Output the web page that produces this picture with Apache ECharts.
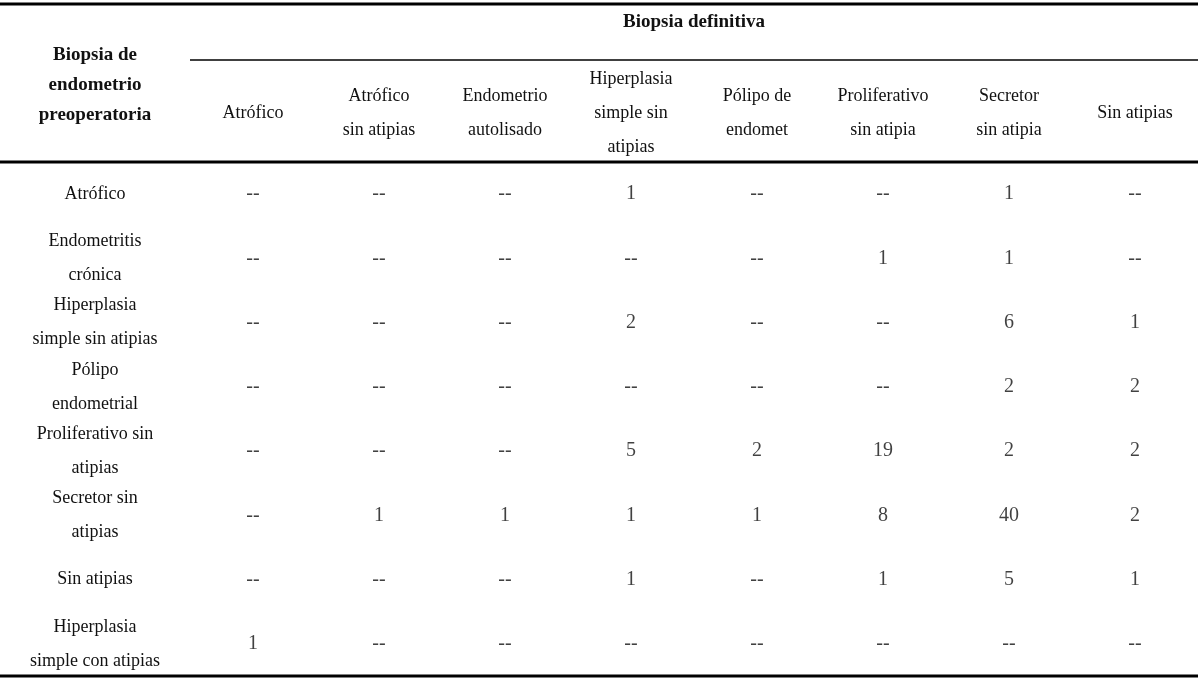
<!DOCTYPE html>
<html>
<head>
<meta charset="utf-8">
<script src="https://cdn.jsdelivr.net/npm/echarts@6/dist/echarts.min.js"></script>
<style>html,body{margin:0;background:#fff}#main{width:1200px;height:692px}</style>
</head>
<body>
<div id="main"></div>
<script>
var columns = ['Atrófico', 'Atrófico\nsin atipias', 'Endometrio\nautolisado', 'Hiperplasia\nsimple sin\natipias', 'Pólipo de\nendomet', 'Proliferativo\nsin atipia', 'Secretor\nsin atipia', 'Sin atipias'];
var rows = ['Atrófico', 'Endometritis\ncrónica', 'Hiperplasia\nsimple sin atipias', 'Pólipo\nendometrial', 'Proliferativo sin\natipias', 'Secretor sin\natipias', 'Sin atipias', 'Hiperplasia\nsimple con atipias'];
// null = "--"
var values = [
    [null, null, null, 1, null, null, 1, null],
    [null, null, null, null, null, 1, 1, null],
    [null, null, null, 2, null, null, 6, 1],
    [null, null, null, null, null, null, 2, 2],
    [null, null, null, 5, 2, 19, 2, 2],
    [null, 1, 1, 1, 1, 8, 40, 2],
    [null, null, null, 1, null, 1, 5, 1],
    [1, null, null, null, null, null, null, null]
];

var font = 'Liberation Serif';
var cells = [];
values.forEach(function (r, i) {
    r.forEach(function (v, j) {
        cells.push([j, i, v]);
    });
});

var myChart = echarts.init(document.getElementById('main'));
var option = {
    animation: false,
    grid: {left: 190, right: 2, top: 162, bottom: 16},
    xAxis: {
        type: 'category', data: columns, position: 'top',
        axisLine: {show: false}, axisTick: {show: false}, splitLine: {show: false},
        axisLabel: {margin: 49, verticalAlign: 'middle', fontFamily: font, fontSize: 18, lineHeight: 34, color: '#111', interval: 0}
    },
    yAxis: {
        type: 'category', data: rows, inverse: true,
        axisLine: {show: false}, axisTick: {show: false}, splitLine: {show: false},
        axisLabel: {margin: 95, align: 'center', fontFamily: font, fontSize: 18, lineHeight: 34, color: '#111', interval: 0}
    },
    series: [{
        type: 'scatter', data: cells, symbolSize: 0,
        label: {
            show: true, position: 'inside', fontFamily: font, color: '#111', fontSize: 20,
            formatter: function (p) { return p.value[2] == null ? '--' : String(p.value[2]); }
        }
    }],
    graphic: [
        {type: 'line', shape: {x1: 0, y1: 4, x2: 1198, y2: 4}, style: {stroke: '#000', lineWidth: 3}},
        {type: 'line', shape: {x1: 190, y1: 60, x2: 1198, y2: 60}, style: {stroke: '#000', lineWidth: 1.5}},
        {type: 'line', shape: {x1: 0, y1: 162, x2: 1198, y2: 162}, style: {stroke: '#000', lineWidth: 3}},
        {type: 'line', shape: {x1: 0, y1: 676, x2: 1198, y2: 676}, style: {stroke: '#000', lineWidth: 3}},
        {type: 'text', x: 694, y: 22, style: {text: 'Biopsia definitiva', font: 'bold 19px "Liberation Serif"', fill: '#111', textAlign: 'center', textVerticalAlign: 'middle'}},
        {type: 'text', x: 95, y: 85, style: {text: 'Biopsia de\nendometrio\npreoperatoria', font: 'bold 19px "Liberation Serif"', lineHeight: 30, fill: '#111', textAlign: 'center', textVerticalAlign: 'middle'}}
    ]
};
myChart.setOption(option);
</script>
</body>
</html>
